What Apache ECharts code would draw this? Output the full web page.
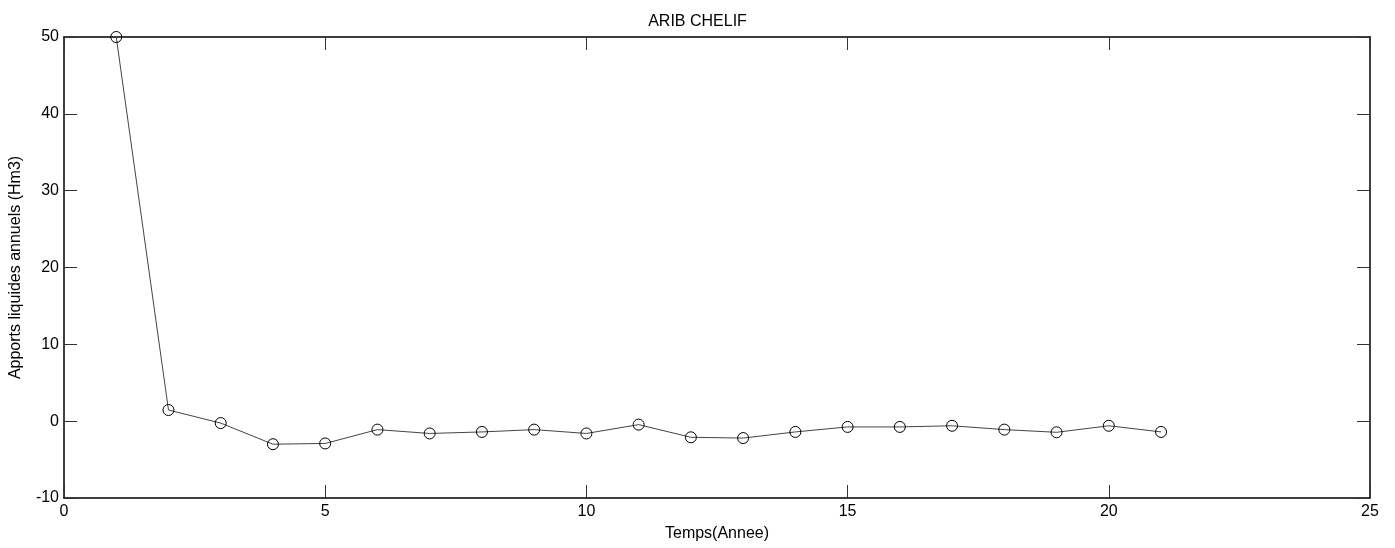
<!DOCTYPE html>
<html>
<head>
<meta charset="utf-8">
<script src="https://cdn.jsdelivr.net/npm/echarts@6/dist/echarts.min.js"></script>
<style>
  html, body { margin: 0; padding: 0; background: #fff; }
  #chart { width: 1395px; height: 548px; }
</style>
</head>
<body>
<div id="chart"></div>
<script>
// Annual liquid inflows at Arib Chelif, by year index
const years = [1, 2, 3, 4, 5, 6, 7, 8, 9, 10, 11, 12, 13, 14, 15, 16, 17, 18, 19, 20, 21];
const inflows = [50, 1.45, -0.25, -3.0, -2.9, -1.1, -1.6, -1.4, -1.1, -1.6, -0.45, -2.1, -2.2, -1.4, -0.75, -0.75, -0.6, -1.1, -1.45, -0.6, -1.4];
const xTicks = [0, 5, 10, 15, 20, 25];
const yTicks = [-10, 0, 10, 20, 30, 40, 50];

const font = 'Liberation Sans, Arial, sans-serif';
const fs = 16;
const boxLine = { show: true, onZero: false, lineStyle: { color: '#000', width: 1.5 } };
const inTick = { show: true, inside: true, length: 13, lineStyle: { color: '#333', width: 1 } };

const chart = echarts.init(document.getElementById('chart'));
chart.setOption({
  animation: false,
  backgroundColor: '#fff',
  title: {
    text: 'ARIB CHELIF',
    left: 'center',
    top: 9,
    textStyle: { fontFamily: font, fontSize: fs, fontWeight: 'normal', color: '#000' }
  },
  grid: { left: 63, right: 25, top: 37, bottom: 50, containLabel: false },
  xAxis: [
    {
      type: 'value', min: xTicks[0], max: xTicks[xTicks.length - 1], interval: 5,
      position: 'bottom',
      name: 'Temps(Annee)', nameLocation: 'middle', nameGap: 28,
      nameTextStyle: { fontFamily: font, fontSize: fs, color: '#000' },
      axisLine: boxLine, axisTick: inTick, splitLine: { show: false },
      axisLabel: { fontFamily: font, fontSize: fs, color: '#000', margin: 6 }
    },
    {
      type: 'value', min: xTicks[0], max: xTicks[xTicks.length - 1], interval: 5,
      position: 'top',
      axisLine: boxLine, axisTick: inTick, splitLine: { show: false },
      axisLabel: { show: false }
    }
  ],
  yAxis: [
    {
      type: 'value', min: yTicks[0], max: yTicks[yTicks.length - 1], interval: 10,
      position: 'left',
      name: 'Apports liquides annuels (Hm3)', nameLocation: 'middle', nameGap: 40,
      nameTextStyle: { fontFamily: font, fontSize: fs, color: '#000' },
      axisLine: boxLine, axisTick: inTick, splitLine: { show: false },
      axisLabel: { fontFamily: font, fontSize: fs, color: '#000', margin: 5 }
    },
    {
      type: 'value', min: yTicks[0], max: yTicks[yTicks.length - 1], interval: 10,
      position: 'right',
      axisLine: boxLine, axisTick: inTick, splitLine: { show: false },
      axisLabel: { show: false }
    }
  ],
  series: [
    {
      type: 'line',
      xAxisIndex: 0, yAxisIndex: 0,
      data: years.map((y, i) => [y, inflows[i]]),
      symbol: 'circle',
      symbolSize: 11,
      lineStyle: { color: '#444', width: 1 },
      itemStyle: { color: 'rgba(0,0,0,0)', borderColor: '#000', borderWidth: 1 },
      clip: false
    }
  ]
});
</script>
</body>
</html>
